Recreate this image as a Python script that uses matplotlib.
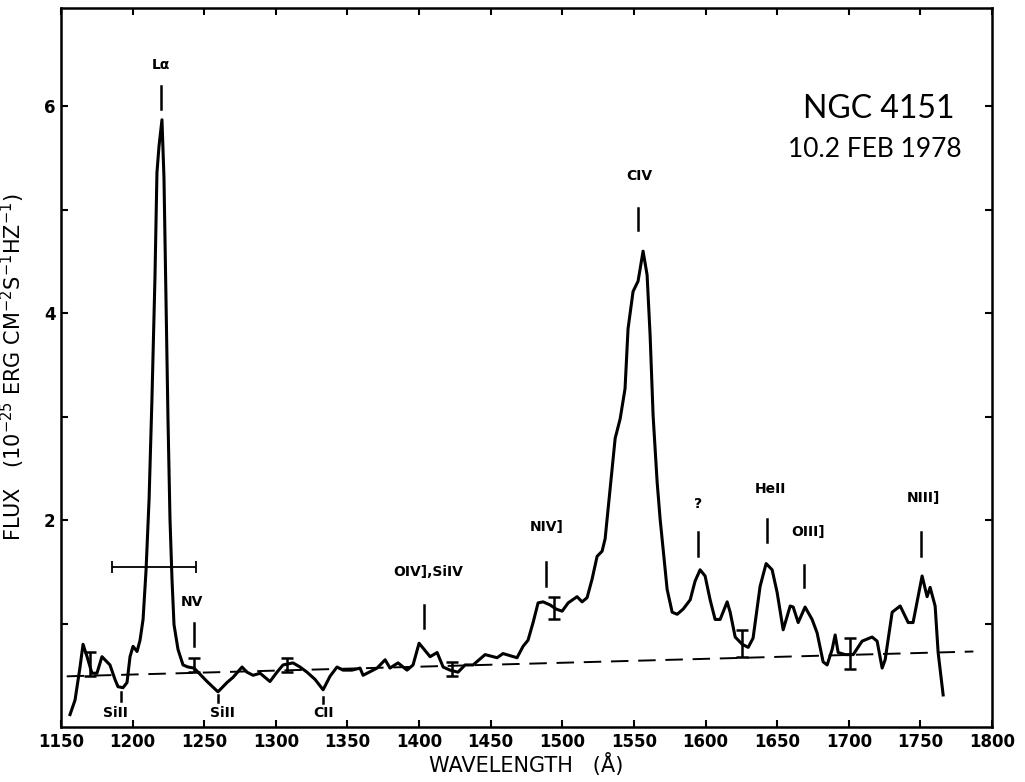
import matplotlib
matplotlib.use("Agg")
import matplotlib.pyplot as plt
import numpy as np

# spectrum: wavelength (A), flux (1e-25 erg cm-2 s-1 Hz-1)
wavelength = [1156.3, 1159.8, 1163.3, 1165.4, 1168.2, 1171.6, 1175.1, 1178.6, 1184.2, 1187.7,
              1189.8, 1193.3, 1196.1, 1198.2, 1200.3, 1203.1, 1205.2, 1207.3, 1209.4, 1211.5,
              1213.5, 1215.6, 1217.0, 1218.4, 1220.5, 1221.9, 1223.3, 1224.7, 1226.1, 1227.5,
              1228.9, 1231.7, 1235.2, 1238.7, 1242.9, 1245.7, 1252.0, 1259.6, 1265.9, 1270.1,
              1276.4, 1279.9, 1284.1, 1289.0, 1295.9, 1300.8, 1305.0, 1312.0, 1316.9, 1321.8,
              1327.4, 1333.0, 1337.8, 1342.7, 1346.9, 1353.2, 1358.8, 1360.9, 1370.7, 1376.3,
              1379.7, 1385.3, 1391.6, 1395.8, 1400.0, 1407.7, 1412.6, 1416.8, 1421.6, 1427.2,
              1432.1, 1437.7, 1446.1, 1454.5, 1458.6, 1468.4, 1472.6, 1476.1, 1479.6, 1483.1,
              1486.6, 1491.5, 1495.7, 1499.9, 1504.1, 1510.3, 1513.8, 1517.3, 1520.8, 1524.3,
              1527.8, 1529.9, 1532.0, 1536.9, 1540.4, 1543.8, 1545.9, 1549.4, 1552.9, 1556.4,
              1559.2, 1561.3, 1563.4, 1566.2, 1568.3, 1570.4, 1573.2, 1576.7, 1580.2, 1584.4,
              1589.3, 1592.7, 1596.2, 1599.7, 1603.2, 1606.7, 1610.2, 1615.1, 1617.2, 1620.7,
              1625.6, 1629.8, 1633.2, 1638.1, 1642.3, 1646.5, 1650.0, 1654.2, 1659.1, 1661.2,
              1664.7, 1669.5, 1674.4, 1677.9, 1682.1, 1684.9, 1688.4, 1690.5, 1692.6, 1697.5,
              1703.1, 1709.3, 1716.3, 1719.8, 1723.3, 1725.4, 1730.3, 1735.9, 1741.5, 1744.9,
              1751.2, 1754.7, 1756.8, 1760.3, 1762.4, 1765.9]
flux = [0.12, 0.26, 0.58, 0.80, 0.68, 0.52, 0.52, 0.68, 0.60, 0.46,
        0.39, 0.38, 0.43, 0.68, 0.78, 0.73, 0.84, 1.04, 1.52, 2.20,
        3.17, 4.34, 5.36, 5.61, 5.87, 5.31, 4.15, 2.98, 2.01, 1.43,
        0.99, 0.75, 0.60, 0.58, 0.57, 0.53, 0.44, 0.34, 0.43, 0.48,
        0.58, 0.53, 0.50, 0.52, 0.44, 0.53, 0.60, 0.62, 0.58, 0.53,
        0.46, 0.36, 0.49, 0.58, 0.55, 0.55, 0.57, 0.50, 0.57, 0.65,
        0.57, 0.62, 0.55, 0.60, 0.81, 0.68, 0.72, 0.58, 0.55, 0.53,
        0.60, 0.60, 0.70, 0.67, 0.71, 0.67, 0.78, 0.84, 1.01, 1.20,
        1.21, 1.18, 1.14, 1.12, 1.20, 1.26, 1.21, 1.25, 1.43, 1.65,
        1.70, 1.82, 2.11, 2.79, 2.98, 3.27, 3.85, 4.21, 4.31, 4.60,
        4.37, 3.79, 3.01, 2.37, 2.01, 1.72, 1.33, 1.11, 1.09, 1.14,
        1.23, 1.41, 1.52, 1.46, 1.23, 1.04, 1.04, 1.21, 1.11, 0.87,
        0.80, 0.77, 0.86, 1.36, 1.58, 1.52, 1.30, 0.94, 1.17, 1.16,
        1.01, 1.16, 1.04, 0.91, 0.63, 0.60, 0.75, 0.89, 0.72, 0.70,
        0.70, 0.83, 0.87, 0.83, 0.57, 0.65, 1.11, 1.17, 1.01, 1.01,
        1.46, 1.26, 1.35, 1.17, 0.72, 0.31]

# continuum (dashed)
cont_wl = [1154, 1787]
cont_flux = [0.49, 0.73]

# error bars
err_wl = [1170.2, 1242.9, 1307.8, 1423.0, 1494.3, 1625.6, 1701.0]
err_flux = [0.61, 0.60, 0.60, 0.56, 1.15, 0.81, 0.71]
err_size = [0.12, 0.07, 0.07, 0.07, 0.11, 0.13, 0.15]

# resolution bar
res_wl = 1215.0
res_half = 29.4
res_flux = 1.55

# line identifications: label, tick wavelength, tick top, tick bottom, text x, text y
line_names = ["L\u03b1", "SiII", "NV", "SiII", "CII", "OIV],SiIV", "NIV]", "CIV", "?", "HeII", "OIII]", "NIII]"]
line_wl = [1219.8, 1191.9, 1242.9, 1259.6, 1333.0, 1403.5, 1488.7, 1552.9, 1594.8, 1643.0, 1668.8, 1750.5]
line_top = [6.20, 0.34, 1.01, 0.31, 0.29, 1.18, 1.60, 5.02, 1.89, 2.01, 1.57, 1.89]
line_bot = [5.97, 0.25, 0.78, 0.24, 0.23, 0.96, 1.36, 4.80, 1.65, 1.79, 1.35, 1.65]
text_wl = [1219.8, 1187.7, 1241.5, 1262.4, 1333.0, 1406.3, 1489.4, 1553.6, 1594.8, 1645.1, 1671.6, 1751.9]
text_flux = [6.40, 0.14, 1.21, 0.14, 0.14, 1.50, 1.93, 5.33, 2.16, 2.30, 1.89, 2.21]

x_ticks = list(range(1150, 1801, 50))
y_ticks = [1, 2, 3, 4, 5, 6]
y_labels = ["", "2", "", "4", "", "6"]

fig = plt.figure(figsize=(10.25, 7.82), dpi=100)
ax = fig.add_axes([0.0595, 0.0703, 0.9083, 0.9194])

ax.plot(wavelength, flux, color="black", linewidth=2.2, solid_joinstyle="round")
ax.plot(cont_wl, cont_flux, color="black", linewidth=1.4, dashes=(9, 5))
ax.errorbar(err_wl, err_flux, yerr=err_size, fmt="none", ecolor="black",
            elinewidth=1.8, capsize=4, capthick=1.8)
ax.errorbar([res_wl], [res_flux], xerr=[res_half], fmt="none", ecolor="black",
            elinewidth=1.3, capsize=4, capthick=1.3)

for name, wl, top, bot, tx, ty in zip(line_names, line_wl, line_top, line_bot, text_wl, text_flux):
    ax.plot([wl, wl], [bot, top], color="black", linewidth=1.8)
    ax.text(tx, ty, name, ha="center", va="center", fontsize=10, fontweight="bold")

ax.text(1721, 5.97, "NGC 4151", ha="center", va="center", fontsize=23, family="Lato")
ax.text(1718, 5.58, "10.2 FEB 1978", ha="center", va="center", fontsize=19, family="Lato")

ax.set_xlim(1150, 1800)
ax.set_ylim(0, 6.95)
ax.set_xticks(x_ticks)
ax.set_xticklabels([str(t) for t in x_ticks], fontsize=12, fontweight="bold")
ax.set_yticks(y_ticks)
ax.set_yticklabels(y_labels, fontsize=12, fontweight="bold")
ax.tick_params(direction="in", length=5, width=1.5, top=True, right=True, pad=4)

for s in ax.spines.values():
    s.set_linewidth(1.8)

ax.set_xlabel("WAVELENGTH   (\u00c5)", fontsize=15, labelpad=2)
ax.set_ylabel("FLUX   (10$^{-25}$ ERG CM$^{-2}$S$^{-1}$HZ$^{-1}$)", fontsize=15)
ax.yaxis.set_label_coords(-0.036, 0.5)

fig.savefig("out.png", dpi=100)
